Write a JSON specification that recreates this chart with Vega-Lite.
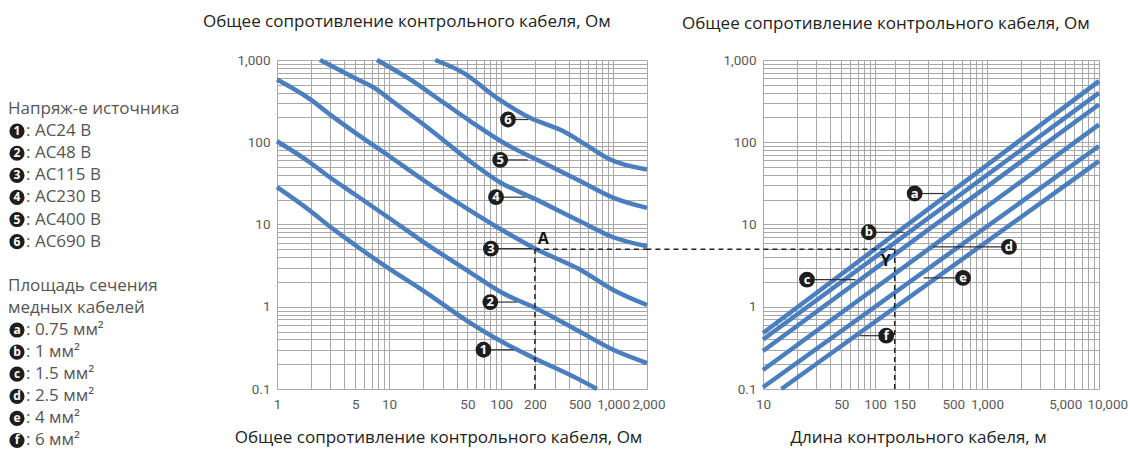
{
  "$schema": "https://vega.github.io/schema/vega-lite/v6.json",
  "background": "white",
  "padding": {"left": 8, "top": 13, "right": 0, "bottom": 0},
  "bounds": "flush",
  "spacing": 116,
  "resolve": {"scale": {"x": "independent", "y": "independent"}},
  "config": {
    "view": {"stroke": null},
    "axis": {
      "labelFont": "Roboto", "labelColor": "#5a5a5a", "labelFontSize": 13.5,
      "ticks": false, "domain": false, "grid": true, "gridColor": "#a8a8a8", "gridWidth": 1,
      "titleFont": "Open Sans", "titleFontWeight": "normal", "titleColor": "#222", "titleFontSize": 17,
      "labelOverlap": false, "labelFlush": false, "labelBound": false
    },
    "title": {"font": "Open Sans", "fontSize": 17, "fontWeight": "normal", "color": "#222"}
  },
  "datasets": {
    "legendHead": [
      {"row": 0, "text": "Напряж-е источника"},
      {"row": 8, "text": "Площадь сечения"},
      {"row": 9, "text": "медных кабелей"}
    ],
    "legendItems": [
      {"row": 1, "sym": "1", "text": ": AC24 В"},
      {"row": 2, "sym": "2", "text": ": AC48 В"},
      {"row": 3, "sym": "3", "text": ": AC115 В"},
      {"row": 4, "sym": "4", "text": ": AC230 В"},
      {"row": 5, "sym": "5", "text": ": AC400 В"},
      {"row": 6, "sym": "6", "text": ": AC690 В"},
      {"row": 10, "sym": "a", "text": ": 0.75 мм²"},
      {"row": 11, "sym": "b", "text": ": 1 мм²"},
      {"row": 12, "sym": "c", "text": ": 1.5 мм²"},
      {"row": 13, "sym": "d", "text": ": 2.5 мм²"},
      {"row": 14, "sym": "e", "text": ": 4 мм²"},
      {"row": 15, "sym": "f", "text": ": 6 мм²"}
    ],
    "curvesL": [
      {"s": "1", "x": 1, "y": 28.5}, {"s": "1", "x": 2, "y": 14.5}, {"s": "1", "x": 3, "y": 9.3}, {"s": "1", "x": 5, "y": 5.6}, {"s": "1", "x": 10, "y": 2.9}, {"s": "1", "x": 20, "y": 1.58}, {"s": "1", "x": 50, "y": 0.67}, {"s": "1", "x": 100, "y": 0.38}, {"s": "1", "x": 200, "y": 0.235}, {"s": "1", "x": 500, "y": 0.13}, {"s": "1", "x": 715, "y": 0.1},
      {"s": "2", "x": 1, "y": 103}, {"s": "2", "x": 2, "y": 56}, {"s": "2", "x": 3, "y": 37}, {"s": "2", "x": 5, "y": 23}, {"s": "2", "x": 10, "y": 12}, {"s": "2", "x": 20, "y": 6.2}, {"s": "2", "x": 50, "y": 2.75}, {"s": "2", "x": 100, "y": 1.5}, {"s": "2", "x": 200, "y": 0.97}, {"s": "2", "x": 500, "y": 0.5}, {"s": "2", "x": 1000, "y": 0.3}, {"s": "2", "x": 2000, "y": 0.207},
      {"s": "3", "x": 1, "y": 580}, {"s": "3", "x": 2, "y": 330}, {"s": "3", "x": 3, "y": 215}, {"s": "3", "x": 5, "y": 130}, {"s": "3", "x": 10, "y": 68}, {"s": "3", "x": 20, "y": 35}, {"s": "3", "x": 50, "y": 15.5}, {"s": "3", "x": 100, "y": 8.7}, {"s": "3", "x": 200, "y": 5.1}, {"s": "3", "x": 500, "y": 2.85}, {"s": "3", "x": 1000, "y": 1.6}, {"s": "3", "x": 2000, "y": 1.05},
      {"s": "4", "x": 2.42, "y": 1000}, {"s": "4", "x": 5, "y": 600}, {"s": "4", "x": 7.8, "y": 437}, {"s": "4", "x": 10, "y": 338}, {"s": "4", "x": 23.2, "y": 143}, {"s": "4", "x": 50, "y": 62}, {"s": "4", "x": 100, "y": 32}, {"s": "4", "x": 200, "y": 20.5}, {"s": "4", "x": 500, "y": 11}, {"s": "4", "x": 1000, "y": 7.0}, {"s": "4", "x": 2000, "y": 5.44},
      {"s": "5", "x": 7.8, "y": 1000}, {"s": "5", "x": 15.4, "y": 580}, {"s": "5", "x": 30, "y": 309}, {"s": "5", "x": 52.9, "y": 181}, {"s": "5", "x": 112, "y": 93.8}, {"s": "5", "x": 256, "y": 53.6}, {"s": "5", "x": 500, "y": 34}, {"s": "5", "x": 1006, "y": 21.1}, {"s": "5", "x": 2000, "y": 15.9},
      {"s": "6", "x": 25.8, "y": 1000}, {"s": "6", "x": 46, "y": 698}, {"s": "6", "x": 91.6, "y": 347}, {"s": "6", "x": 181, "y": 198}, {"s": "6", "x": 360, "y": 136}, {"s": "6", "x": 600, "y": 89}, {"s": "6", "x": 940, "y": 61.7}, {"s": "6", "x": 2000, "y": 46.6}
    ],
    "tagsL": [
      {"k": "6", "x": 115, "y": 189, "x2": 175},
      {"k": "5", "x": 98, "y": 61, "x2": 172},
      {"k": "4", "x": 90, "y": 21.5, "x2": 164},
      {"k": "3", "x": 81, "y": 5.1, "x2": 188},
      {"k": "2", "x": 80, "y": 1.14, "x2": 138},
      {"k": "1", "x": 69.5, "y": 0.3, "x2": 129}
    ],
    "guidesL": [
      {"x": 200, "x2": 200, "y": 0.1, "y2": 5},
      {"x": 200, "x2": 2000, "y": 5, "y2": 5}
    ],
    "notesL": [{"t": "A", "x": 237, "y": 6.7}],
    "curvesR": [
      {"s": "a", "x": 10, "y": 0.48}, {"s": "a", "x": 10000, "y": 553},
      {"s": "b", "x": 10, "y": 0.40}, {"s": "b", "x": 10000, "y": 399},
      {"s": "c", "x": 10, "y": 0.29}, {"s": "c", "x": 10000, "y": 288},
      {"s": "d", "x": 10, "y": 0.17}, {"s": "d", "x": 10000, "y": 164},
      {"s": "e", "x": 10, "y": 0.105}, {"s": "e", "x": 10000, "y": 90},
      {"s": "f", "x": 14.6, "y": 0.1}, {"s": "f", "x": 10000, "y": 59}
    ],
    "tagsR": [
      {"k": "a", "x": 226, "y": 23.8, "x2": 419},
      {"k": "b", "x": 88, "y": 8.05, "x2": 184},
      {"k": "c", "x": 24.7, "y": 2.14, "x2": 67},
      {"k": "d", "x": 1571, "y": 5.34, "x2": 330},
      {"k": "e", "x": 611, "y": 2.24, "x2": 272},
      {"k": "f", "x": 126, "y": 0.445, "x2": 73}
    ],
    "guidesR": [
      {"x": 150, "x2": 150, "y": 0.1, "y2": 5},
      {"x": 0.91, "x2": 150, "y": 5, "y2": 5}
    ],
    "notesR": [{"t": "Y", "x": 125, "y": 3.57}]
  },
  "hconcat": [
    {
      "width": 153, "height": 390,
      "layer": [
        {
          "data": {"name": "legendHead"},
          "mark": {"type": "text", "align": "left", "baseline": "middle", "font": "Open Sans", "fontSize": 17, "color": "#555"},
          "encoding": {
            "x": {"datum": 0, "type": "quantitative", "scale": {"domain": [0, 153], "nice": false, "zero": false}, "axis": null},
            "y": {"field": "row", "type": "quantitative", "scale": {"domain": [-2.22, 15.43], "reverse": true, "nice": false, "zero": false}, "axis": null},
            "text": {"field": "text"}
          }
        },
        {
          "data": {"name": "legendItems"},
          "mark": {"type": "point", "filled": true, "color": "#1e1e1e", "opacity": 1, "size": 230},
          "encoding": {
            "x": {"datum": 9, "type": "quantitative"},
            "y": {"field": "row", "type": "quantitative"}
          }
        },
        {
          "data": {"name": "legendItems"},
          "mark": {"type": "text", "align": "center", "baseline": "middle", "font": "Open Sans", "fontWeight": "bold", "fontSize": 12, "color": "white"},
          "encoding": {
            "x": {"datum": 9, "type": "quantitative"},
            "y": {"field": "row", "type": "quantitative"},
            "text": {"field": "sym"}
          }
        },
        {
          "data": {"name": "legendItems"},
          "mark": {"type": "text", "align": "left", "baseline": "middle", "font": "Open Sans", "fontSize": 17, "color": "#555"},
          "encoding": {
            "x": {"datum": 18, "type": "quantitative"},
            "y": {"field": "row", "type": "quantitative"},
            "text": {"field": "text"}
          }
        }
      ]
    },
    {
      "width": 370, "height": 329,
      "title": {"text": "Общее сопротивление контрольного кабеля, Ом", "anchor": "start", "frame": "group", "dx": -74, "offset": 20},
      "encoding": {
        "x": {"field": "x", "type": "quantitative",
          "scale": {"type": "log", "domain": [1, 2000], "nice": false},
          "axis": {
            "title": "Общее сопротивление контрольного кабеля, Ом",
            "titleX": 161, "labelPadding": 8, "titlePadding": 19,
            "values": [1,2,3,4,5,6,7,8,9,10,20,30,40,50,60,70,80,90,100,200,300,400,500,600,700,800,900,1000,2000],
            "labelExpr": "indexof([1,5,10,50,100,200,500,1000,2000], datum.value) >= 0 ? format(datum.value, ',') : ''",
            "labelAlign": {"condition": {"test": "datum.value == 2000", "value": "left"}, "value": "center"},
            "labelOffset": {"condition": {"test": "datum.value == 2000", "value": -15}, "value": 0}
          }
        },
        "y": {"field": "y", "type": "quantitative",
          "scale": {"type": "log", "domain": [0.1, 1000], "nice": false},
          "axis": {
            "title": null, "labelPadding": 7,
            "values": [0.1,0.2,0.3,0.4,0.5,0.6,0.7,0.8,0.9,1,2,3,4,5,6,7,8,9,10,20,30,40,50,60,70,80,90,100,200,300,400,500,600,700,800,900,1000],
            "labelExpr": "indexof([0.1,1,10,100,1000], datum.value) >= 0 ? format(datum.value, ',') : ''"
          }
        }
      },
      "layer": [
        {
          "data": {"name": "curvesL"},
          "mark": {"type": "line", "color": "#4a7ebf", "strokeWidth": 4.5, "interpolate": "monotone"},
          "encoding": {"detail": {"field": "s"}}
        },
        {
          "data": {"name": "guidesL"},
          "mark": {"type": "rule", "color": "#222", "strokeWidth": 1.5, "strokeDash": [5, 4]},
          "encoding": {"x2": {"field": "x2"}, "y2": {"field": "y2"}}
        },
        {
          "data": {"name": "tagsL"},
          "mark": {"type": "rule", "color": "#333", "strokeWidth": 1.2},
          "encoding": {"x2": {"field": "x2"}}
        },
        {
          "data": {"name": "tagsL"},
          "mark": {"type": "point", "filled": true, "color": "#1e1e1e", "opacity": 1, "size": 250}
        },
        {
          "data": {"name": "tagsL"},
          "mark": {"type": "text", "align": "center", "baseline": "middle", "font": "Open Sans", "fontWeight": "bold", "fontSize": 13, "color": "white"},
          "encoding": {"text": {"field": "k"}}
        },
        {
          "data": {"name": "notesL"},
          "mark": {"type": "text", "align": "center", "baseline": "middle", "font": "Open Sans", "fontWeight": "bold", "fontSize": 16, "color": "#111"},
          "encoding": {"text": {"field": "t"}}
        }
      ]
    },
    {
      "width": 336, "height": 329,
      "title": {"text": "Общее сопротивление контрольного кабеля, Ом", "anchor": "start", "frame": "group", "dx": -81, "offset": 20},
      "encoding": {
        "x": {"field": "x", "type": "quantitative",
          "scale": {"type": "log", "domain": [10, 10000], "nice": false},
          "axis": {
            "title": "Длина контрольного кабеля, м",
            "titleX": 155, "labelPadding": 8, "titlePadding": 19,
            "values": [10,20,30,40,50,60,70,80,90,100,150,200,300,400,500,600,700,800,900,1000,2000,3000,4000,5000,6000,7000,8000,9000,10000],
            "labelExpr": "indexof([10,50,100,150,500,1000,5000,10000], datum.value) >= 0 ? format(datum.value, ',') : ''",
            "labelAlign": {"condition": {"test": "datum.value == 150 || datum.value == 10000", "value": "left"}, "value": "center"},
            "labelOffset": {"condition": [{"test": "datum.value == 150", "value": -2}, {"test": "datum.value == 10000", "value": -12}], "value": 0}
          }
        },
        "y": {"field": "y", "type": "quantitative",
          "scale": {"type": "log", "domain": [0.1, 1000], "nice": false},
          "axis": {
            "title": null, "labelPadding": 7,
            "values": [0.1,0.2,0.3,0.4,0.5,0.6,0.7,0.8,0.9,1,2,3,4,5,6,7,8,9,10,20,30,40,50,60,70,80,90,100,200,300,400,500,600,700,800,900,1000],
            "labelExpr": "indexof([0.1,1,10,100,1000], datum.value) >= 0 ? format(datum.value, ',') : ''"
          }
        }
      },
      "layer": [
        {
          "data": {"name": "curvesR"},
          "mark": {"type": "line", "color": "#4a7ebf", "strokeWidth": 4.5},
          "encoding": {"detail": {"field": "s"}}
        },
        {
          "data": {"name": "guidesR"},
          "mark": {"type": "rule", "color": "#222", "strokeWidth": 1.5, "strokeDash": [5, 4]},
          "encoding": {"x2": {"field": "x2"}, "y2": {"field": "y2"}}
        },
        {
          "data": {"name": "tagsR"},
          "mark": {"type": "rule", "color": "#333", "strokeWidth": 1.2},
          "encoding": {"x2": {"field": "x2"}}
        },
        {
          "data": {"name": "tagsR"},
          "mark": {"type": "point", "filled": true, "color": "#1e1e1e", "opacity": 1, "size": 250}
        },
        {
          "data": {"name": "tagsR"},
          "mark": {"type": "text", "align": "center", "baseline": "middle", "font": "Open Sans", "fontWeight": "bold", "fontSize": 13, "color": "white"},
          "encoding": {"text": {"field": "k"}}
        },
        {
          "data": {"name": "notesR"},
          "mark": {"type": "text", "align": "center", "baseline": "middle", "font": "Open Sans", "fontWeight": "bold", "fontSize": 16, "color": "#111"},
          "encoding": {"text": {"field": "t"}}
        }
      ]
    }
  ]
}
